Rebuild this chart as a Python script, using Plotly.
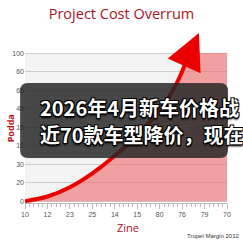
import numpy as np
import plotly.graph_objects as go

# ---- data ----
x_tick_labels = ["10", "12", "23", "25", "14", "15", "80", "76", "79", "70"]
y_tick_labels = ["0", "20", "30", "10", "15", "45", "65", "60", "100"]
curve_x = [0, 1.0, 2.0, 3.0, 4.0, 5.0, 6.0, 6.75, 7.2]
curve_y = [0, 0.25, 0.75, 1.5, 2.45, 3.6, 4.9, 6.35, 7.6]
arrow_tip = (7.75, 9.08)
cap_level = 8
title_text = "Project Cost Overrum"
x_title = "Zine"
y_title = "Podda"
footer = "Trupel Margin 2012"
watermark = "Profit<br>Margin"
overlay_lines = ["2026年4月新车价格战", "近70款车型降价，现在"]

# ---- geometry ----
W = H = 243
ML, MR, MT, MB = 22, 15, 29, 40
PW, PH = W - ML - MR, H - MT - MB
def px(x):
    return (x - ML) / PW
def py(y):
    return (H - MB - y) / PH

n_x = len(x_tick_labels) - 1

# fill region: area under curve clipped at cap level, extended to right edge
bx, by = curve_x[-1], curve_y[-1]
tx, ty = arrow_tip
x_cross = bx + (tx - bx) * (cap_level - by) / (ty - by)
fill_x = list(curve_x) + [x_cross, n_x]
fill_y = list(np.minimum(curve_y, cap_level)) + [cap_level, cap_level]

fig = go.Figure()
fig.add_trace(go.Scatter(x=fill_x, y=fill_y, mode="lines", fill="tozeroy",
                         fillcolor="rgba(238,105,105,0.6)", line=dict(width=0),
                         hoverinfo="skip", showlegend=False))
fig.add_trace(go.Scatter(x=[6.75], y=[3.55], mode="text", text=[watermark],
                         textfont=dict(size=10, color="rgba(255,255,255,0.9)", family="Open Sans"),
                         showlegend=False, hoverinfo="skip"))
fig.add_trace(go.Scatter(x=curve_x, y=curve_y, mode="lines",
                         line=dict(color="rgb(235,0,0)", width=4, shape="spline"),
                         showlegend=False, hoverinfo="skip"))

fig.add_annotation(x=tx, y=ty, ax=bx, ay=by, xref="x", yref="y", axref="x", ayref="y",
                   showarrow=True, arrowhead=2, arrowsize=1.8, arrowwidth=4,
                   arrowcolor="rgb(235,0,0)", text="")

# background of plot area (only up to cap level)
fig.add_shape(type="rect", xref="x", yref="y", x0=0, x1=n_x, y0=0, y1=cap_level,
              fillcolor="#F3F3F3", line=dict(width=0), layer="below")

# dark rounded overlay box
x0, x1 = px(17), px(229)
y0, y1 = py(158), py(83)
rx, ry = 8 / PW, 8 / PH
path = (f"M{x0+rx},{y0} L{x1-rx},{y0} Q{x1},{y0} {x1},{y0+ry} L{x1},{y1-ry} "
        f"Q{x1},{y1} {x1-rx},{y1} L{x0+rx},{y1} Q{x0},{y1} {x0},{y1-ry} "
        f"L{x0},{y0+ry} Q{x0},{y0} {x0+rx},{y0} Z")
fig.add_shape(type="path", path=path, xref="paper", yref="paper",
              fillcolor="rgba(38,38,38,0.84)", line=dict(width=0), layer="above")

outline = ("-1px -1px 0 #000, 1px -1px 0 #000, -1px 1px 0 #000, 1px 1px 0 #000, "
           "0 2px 2px #000")
for line, yc in zip(overlay_lines, [108, 134]):
    fig.add_annotation(x=px(35), y=py(yc), xref="paper", yref="paper",
                       text=line, showarrow=False, xanchor="left", yanchor="middle",
                       font=dict(family="Noto Sans CJK SC", size=20, color="white",
                                 weight="bold", shadow=outline))

fig.add_annotation(x=px(127), y=py(227), xref="paper", yref="paper", text=x_title,
                   showarrow=False, xanchor="center", yanchor="middle",
                   font=dict(family="Open Sans", size=11, color="#B0101C"))
fig.add_annotation(x=px(7), y=py(128), xref="paper", yref="paper", text=y_title,
                   showarrow=False, textangle=-90, xanchor="center", yanchor="middle",
                   font=dict(family="Open Sans", size=9, color="#C0101C", weight="bold"))
fig.add_annotation(x=px(242), y=py(236), xref="paper", yref="paper", text=footer,
                   showarrow=False, xanchor="right", yanchor="middle",
                   font=dict(family="Liberation Sans", size=6, color="#333"))

fig.update_layout(
    width=W, height=H, margin=dict(l=ML, r=MR, t=MT, b=MB),
    paper_bgcolor="white", plot_bgcolor="white",
    title=dict(text=title_text, x=0.5, xanchor="center", y=1 - 14 / H, yanchor="middle",
               font=dict(family="Open Sans", size=14.5, color="#A8141C")),
    xaxis=dict(range=[0, n_x], tickvals=list(range(n_x + 1)), ticktext=x_tick_labels,
               showgrid=False, zeroline=False, showline=True, linecolor="#BBBBBB",
               ticks="outside", ticklen=5, tickcolor="#BBBBBB",
               minor=dict(dtick=0.2, ticks="outside", ticklen=3, tickcolor="#BBBBBB", showgrid=False),
               tickfont=dict(family="Liberation Sans", size=7, color="#555")),
    yaxis=dict(range=[-0.1, 9.3], tickvals=list(range(cap_level + 1)), ticktext=y_tick_labels,
               showgrid=True, gridcolor="#CCCCCC", zeroline=False, showline=False,
               tickfont=dict(family="Liberation Sans", size=7, color="#555")),
)

fig.write_html("out.html")
